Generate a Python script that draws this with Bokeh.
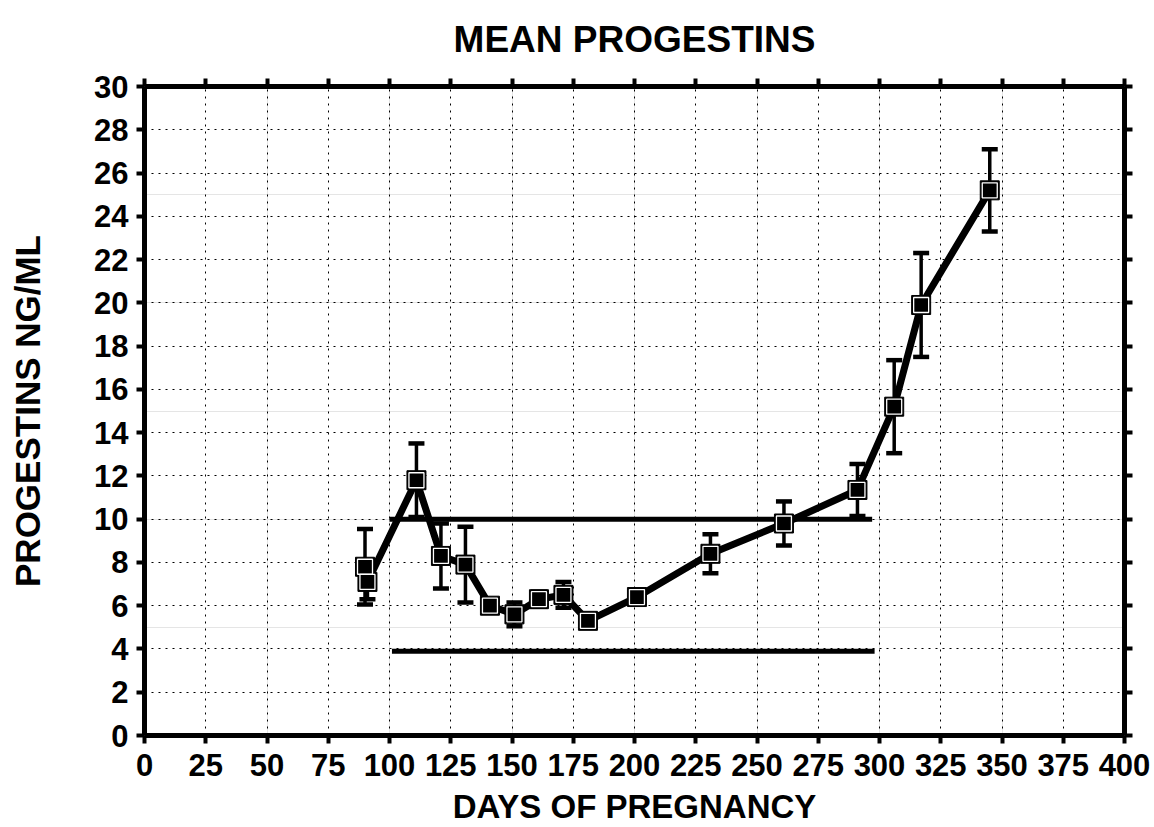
from bokeh.plotting import figure
from bokeh.models import (ColumnDataSource, Whisker, TeeHead, Range1d, LinearAxis,
                          SingleIntervalTicker, Title, Grid)
from bokeh.embed import file_html
from bokeh.resources import INLINE

# ---- data ----
days = [90, 91, 111, 121, 131, 141, 151, 161, 171, 181, 201, 231, 261, 291, 306, 317, 345]
means = [7.8, 7.1, 11.8, 8.3, 7.9, 6.0, 5.6, 6.3, 6.5, 5.3, 6.4, 8.4, 9.8, 11.35, 15.2, 19.9, 25.2]
sem = [1.75, 0.8, 1.7, 1.5, 1.75, 0.3, 0.55, 0.35, 0.6, 0.2, 0.2, 0.9, 1.02, 1.2, 2.15, 2.4, 1.9]

ref_levels = [10.0, 3.9]
ref_start = [100, 101]
ref_end = [297, 298]

x_min, x_max = 0, 400
y_min, y_max = 0, 30
x_ticks_interval = 25
y_ticks_interval = 2

title_text = "MEAN PROGESTINS"
x_label = "DAYS OF PREGNANCY"
y_label = "PROGESTINS NG/ML"

FONT = "Liberation Sans"

src = ColumnDataSource(dict(
    x=days, y=means,
    upper=[m + s for m, s in zip(means, sem)],
    lower=[m - s for m, s in zip(means, sem)],
))

p = figure(width=1154, height=827, output_backend="svg", toolbar_location=None,
           x_range=Range1d(x_min, x_max), y_range=Range1d(y_min, y_max),
           x_axis_location=None, y_axis_location=None,
           min_border_left=144, min_border_right=30, min_border_top=86, min_border_bottom=87)
p.outline_line_color = None
p.background_fill_color = "white"
p.border_fill_color = "white"

def style_axis(ax, show_labels):
    ax.axis_line_width = 5
    ax.axis_line_color = "black"
    ax.major_tick_line_width = 4
    ax.major_tick_line_color = "black"
    ax.major_tick_out = 8
    ax.major_tick_in = 0
    ax.minor_tick_line_color = None
    ax.major_label_text_font = FONT
    ax.major_label_text_font_style = "bold"
    ax.major_label_text_font_size = "31px" if show_labels else "0px"
    ax.major_label_text_color = "black" if show_labels else None
    ax.axis_label_text_font = FONT
    ax.axis_label_text_font_style = "bold"
    ax.axis_label_text_color = "black"

xb = LinearAxis(ticker=SingleIntervalTicker(interval=x_ticks_interval), axis_label=x_label)
style_axis(xb, True)
xb.axis_label_text_font_size = "33px"
xb.major_label_standoff = 10
xb.axis_label_standoff = 9
xt = LinearAxis(ticker=SingleIntervalTicker(interval=x_ticks_interval))
style_axis(xt, False)
xt.major_label_standoff = 0
yl = LinearAxis(ticker=SingleIntervalTicker(interval=y_ticks_interval), axis_label=y_label)
style_axis(yl, True)
yl.axis_label_text_font_size = "35px"
yl.major_label_standoff = 8
yl.axis_label_standoff = 44
yr = LinearAxis(ticker=SingleIntervalTicker(interval=y_ticks_interval))
style_axis(yr, False)
yr.major_label_standoff = 0

p.add_layout(xb, "below")
p.add_layout(xt, "above")
p.add_layout(yl, "left")
p.add_layout(yr, "right")

p.title = Title(text=title_text, align="center", vertical_align="top",
                text_font=FONT, text_font_style="bold",
                text_font_size="37px", text_color="black", standoff=34)

p.add_layout(Grid(dimension=0, ticker=xb.ticker, grid_line_color="black",
                  grid_line_dash="2 5", grid_line_width=1))
p.add_layout(Grid(dimension=1, ticker=yl.ticker, grid_line_color="black",
                  grid_line_dash="2 5", grid_line_width=1))

# reference lines
for lv, xs, xe in zip(ref_levels, ref_start, ref_end):
    p.line([xs, xe], [lv, lv], line_color="black", line_width=5)

# data line
p.line("x", "y", source=src, line_color="black", line_width=7, line_join="round")

# error bars
p.add_layout(Whisker(source=src, base="x", upper="upper", lower="lower",
                     line_color="black", line_width=3.5,
                     upper_head=TeeHead(size=16, line_width=4.5, line_color="black"),
                     lower_head=TeeHead(size=16, line_width=4.5, line_color="black")))

# markers
p.scatter("x", "y", source=src, marker="square", size=19, fill_color="black",
          line_color="black", line_width=1)
p.scatter("x", "y", source=src, marker="square", size=15, fill_color=None,
          line_color="white", line_width=1.3)

open("out.html", "w").write(file_html(p, INLINE))
